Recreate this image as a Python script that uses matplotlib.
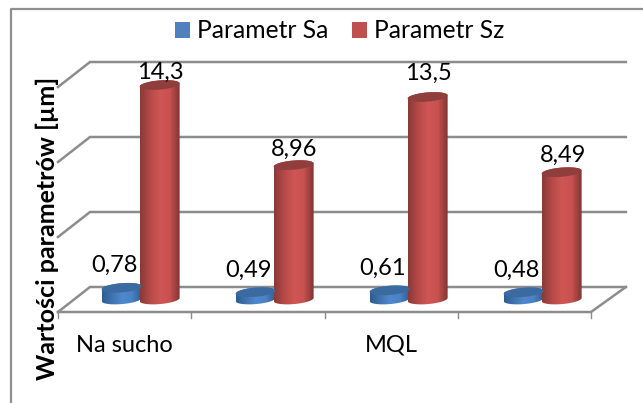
import matplotlib
matplotlib.use("Agg")
import matplotlib.pyplot as plt
import numpy as np
from matplotlib.colors import LinearSegmentedColormap
from matplotlib.patches import PathPatch, Patch
from matplotlib.path import Path

categories = ["Na sucho", "", "MQL", ""]
sa_values = [0.78, 0.49, 0.61, 0.48]
sz_values = [14.3, 8.96, 13.5, 8.49]
sa_labels = ["0,78", "0,49", "0,61", "0,48"]
sz_labels = ["14,3", "8,96", "13,5", "8,49"]
y_ticks = [0, 5, 10, 15]

plt.rcParams['font.family'] = ['Lato', 'DejaVu Sans']

W, H = 643, 403
# pixels per unit of the two scales
PX_X = 133.25
PX_Y = 15.0
LEFT_PX = 58
ZERO_PX = 299.5
DEPTH_X = 32 / PX_X
DEPTH_Y = 12.5 / PX_Y
GREY = "#8c8c8c"
FS = 17

fig = plt.figure(figsize=(W / 100, H / 100), dpi=100)
ax = fig.add_axes([0, 0, 1, 1])
ax.set_xlim(-LEFT_PX / PX_X, (W - LEFT_PX) / PX_X)
ax.set_ylim(-(H - ZERO_PX) / PX_Y, ZERO_PX / PX_Y)
ax.axis("off")

# outer frame, open on the right and at the bottom
ax.plot([11 / W, 11 / W, 1], [0, 1 - 9 / H, 1 - 9 / H], color="#8f8f8f", lw=1.6,
        transform=ax.transAxes, clip_on=False)

# walls and floor
n = len(categories)
for v in y_ticks:
    ax.plot([0, DEPTH_X, n + DEPTH_X * 1.09],
            [v - DEPTH_Y, v + DEPTH_Y, v + DEPTH_Y], color=GREY, lw=1.8, zorder=1,
            solid_joinstyle="miter")
ax.plot([0, n, n + DEPTH_X * 1.09], [-DEPTH_Y, -DEPTH_Y, DEPTH_Y], color=GREY, lw=1.8, zorder=1)
for i in range(n + 1):
    ax.plot([i, i], [-DEPTH_Y, -DEPTH_Y - 6 / PX_Y], color=GREY, lw=1.0, zorder=1)

sa_cmap = LinearSegmentedColormap.from_list(
    "sa", ["#2f5d92", "#3f74b0", "#4f88cc", "#4a82c4", "#2f5d92"])
sz_cmap = LinearSegmentedColormap.from_list(
    "sz", ["#8a3a38", "#b54a48", "#cf5654", "#c85250", "#7f3533"])


def ellipse_pts(xc, yc, start, stop):
    # tilted a bit, the chart is seen in perspective
    t = np.linspace(start, stop, 40)
    dx = 20 * np.cos(t)
    dy = 4.6 * np.sin(t) + 0.08 * dx
    return np.column_stack([xc + dx / PX_X, yc + dy / PX_Y])


def cylinder(xc, value, cmap, top_color):
    side = np.vstack([ellipse_pts(xc, 0, np.pi, 2 * np.pi),
                      ellipse_pts(xc, value, 0, np.pi)])
    clip = PathPatch(Path(side), transform=ax.transData, fc="none", ec="none")
    ax.add_patch(clip)
    grad = np.linspace(0, 1, 64).reshape(1, -1)
    half = 20 / PX_X
    img = ax.imshow(grad, cmap=cmap, aspect="auto", zorder=3,
                    extent=[xc - half, xc + half, -1, value + 1])
    img.set_clip_path(clip)
    ax.fill(*ellipse_pts(xc, value, 0, 2 * np.pi).T, color=top_color, lw=0, zorder=3.1)


step = 134 / PX_X
for i in range(n):
    xc_sa = 0.5 + DEPTH_X / 2 - 19 / PX_X + i * step
    xc_sz = 0.5 + DEPTH_X / 2 + 19 / PX_X + i * step
    cylinder(xc_sa, sa_values[i], sa_cmap, "#3a6a9f")
    cylinder(xc_sz, sz_values[i], sz_cmap, "#8f3e3c")

# Excel puts the labels a bit unevenly above the columns
sz_lift = [13, 16, 24, 17]
for i in range(n):
    xc_sa = 0.5 + DEPTH_X / 2 - 19 / PX_X + i * step
    xc_sz = 0.5 + DEPTH_X / 2 + 19 / PX_X + i * step
    ax.text(xc_sa - 7 / PX_X, sa_values[i] + 22 / PX_Y, sa_labels[i], ha="center",
            va="center", fontsize=FS, color="black", zorder=5)
    ax.text(xc_sz + 1 / PX_X, sz_values[i] + sz_lift[i] / PX_Y, sz_labels[i], ha="center",
            va="center", fontsize=FS, color="black", zorder=5)

for i, cat in enumerate(categories):
    if cat:
        ax.text(i + 0.5, -DEPTH_Y - 33 / PX_Y, cat, ha="center", va="center",
                fontsize=FS, color="black")

ax.text(47 / W, 1 - 228 / H, "Wartości parametrów [µm]", rotation=90, ha="center",
        va="center", fontsize=18, fontweight="bold", transform=ax.transAxes)

handles = [Patch(facecolor="#4f81bd", label="Parametr Sa"),
           Patch(facecolor="#c0504d", label="Parametr Sz")]
ax.legend(handles=handles, ncol=2, loc="center", bbox_to_anchor=(339.5 / W, 1 - 31 / H),
          frameon=False, fontsize=17.7, handlelength=0.61, handleheight=0.61,
          handletextpad=0.29, columnspacing=0.94, borderpad=0, labelcolor="black")

fig.savefig("out.png", dpi=100)
